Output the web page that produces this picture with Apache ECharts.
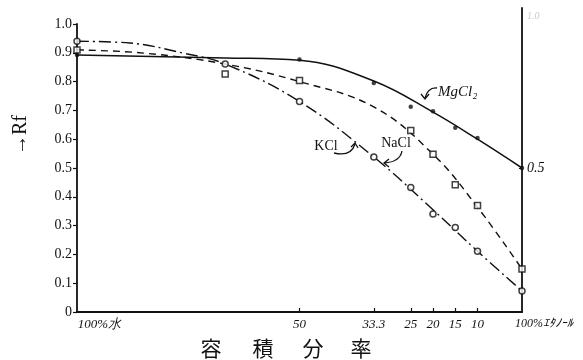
<!DOCTYPE html>
<html>
<head>
<meta charset="utf-8">
<script src="https://cdn.jsdelivr.net/npm/echarts@6/dist/echarts.min.js"></script>
<style>html,body{margin:0;padding:0;background:#fff}#c{width:583px;height:360px}</style>
</head>
<body>
<div id="c"></div>
<script>
// x = water volume %, (100% water at left, 100% ethanol at right)
const waterPct = [100, 66.7, 50, 33.3, 25, 20, 15, 10, 0];
// measured points (markers)
const mgcl2Marks = [0.892, null, 0.877, 0.795, 0.713, 0.697, 0.64, 0.604, 0.5];
const naclMarks  = [0.91, 0.826, 0.804, null, 0.63, 0.548, 0.442, 0.37, 0.149];
const kclMarks   = [0.94, 0.861, 0.731, 0.538, 0.432, 0.34, 0.293, 0.211, 0.073];
// drawn curves
const mgcl2CurveWater = [100, 66.7, 50, 33.3, 20, 10, 0];
const mgcl2Curve      = [0.892, 0.882, 0.874, 0.802, 0.694, 0.6, 0.5];
const naclCurveWater  = [100, 85, 66.7, 50, 33.3, 20, 10, 0];
const naclCurve       = [0.91, 0.899, 0.861, 0.80, 0.712, 0.548, 0.364, 0.149];
const kclCurveWater   = [100, 88.1, 76.2, 66.7, 50, 33.3, 20, 10, 0];
const kclCurve        = [0.94, 0.934, 0.899, 0.861, 0.731, 0.538, 0.355, 0.211, 0.073];
// axis ticks
const xTickValues = [100, 50, 33.3, 25, 20, 15, 10, 0];
const xTickLabels = ['100%水', '50', '33.3', '25', '20', '15', '10', '100%ｴﾀﾉｰﾙ'];
const xMinorTicks = [50, 33.3, 25, 20, 15, 10];
const seriesNames = ['MgCl₂', 'NaCl', 'KCl'];

const ink = '#111';
const pairs = (xs, ys) => xs.map((x, i) => [x, ys[i]]).filter(p => p[1] !== null);

const chart = echarts.init(document.getElementById('c'), null, {renderer: 'canvas'});
const serif = '"Liberation Serif", "DejaVu Serif", serif';
const arrowStyle = {stroke: ink, lineWidth: 1.3, fill: null};

const option = {
  backgroundColor: '#fff',
  animation: false,
  grid: [
    {left: 77, right: 61, top: 24, bottom: 48},
    {left: 77, right: 61, top: 8, bottom: 48}
  ],
  xAxis: [
    {
      type: 'value', gridIndex: 0, min: 0, max: 100, inverse: true,
      axisLine: {show: true, lineStyle: {color: ink, width: 1.8}},
      axisTick: {show: true, inside: true, length: 4, customValues: xMinorTicks, lineStyle: {color: ink, width: 1.2}},
      splitLine: {show: false},
      axisLabel: {
        show: true, customValues: xTickValues, margin: 6,
        color: ink, fontFamily: serif, fontStyle: 'italic', fontSize: 13,
        formatter: function (v) {
          const i = xTickValues.indexOf(v);
          const t = i >= 0 ? xTickLabels[i] : '';
          if (v === 100) return '{w|' + t + '}';
          if (v === 0) return '{e|' + t + '}';
          return t;
        },
        rich: {
          w: {padding: [0, 0, 0, 45], fontFamily: serif, fontStyle: 'italic', fontSize: 13, color: ink},
          e: {padding: [0, 0, 0, 44], fontFamily: serif, fontStyle: 'italic', fontSize: 12, color: ink}
        }
      }
    },
    {type: 'value', gridIndex: 1, min: 0, max: 100, show: false}
  ],
  yAxis: [
    {
      type: 'value', gridIndex: 0, min: 0, max: 1, interval: 0.1,
      axisLine: {show: true, onZero: false, lineStyle: {color: ink, width: 1.8}},
      axisTick: {show: true, length: 4, lineStyle: {color: ink, width: 1.2}},
      splitLine: {show: false},
      axisLabel: {
        color: ink, fontFamily: serif, fontSize: 14, margin: 5,
        formatter: v => (v === 0 ? '0' : v.toFixed(1))
      }
    },
    {
      type: 'value', gridIndex: 1, position: 'right', min: 0, max: 1.0556, interval: 0.5,
      axisLine: {show: true, onZero: false, lineStyle: {color: ink, width: 1.8}},
      axisTick: {show: true, length: 3, inside: true, customValues: [0.5], lineStyle: {color: ink}},
      splitLine: {show: false},
      axisLabel: {
        show: true, customValues: [0.5, 1.0], margin: 5,
        fontFamily: serif, fontStyle: 'italic', fontSize: 14,
        formatter: v => (v === 0.5 ? '{a|0.5}' : '{b|1.0}'),
        rich: {a: {color: ink, fontFamily: serif, fontStyle: 'italic', fontSize: 14},
               b: {color: '#c8c8c8', fontFamily: serif, fontSize: 10, padding: [0, 0, 16, 0]}}
      }
    }
  ],
  series: [
    {name: seriesNames[0], type: 'line', xAxisIndex: 0, yAxisIndex: 0, smooth: 0.4,
     showSymbol: false, data: pairs(mgcl2CurveWater, mgcl2Curve),
     lineStyle: {color: ink, width: 1.5, type: 'solid'}, z: 3},
    {name: seriesNames[1], type: 'line', xAxisIndex: 0, yAxisIndex: 0, smooth: 0.4,
     showSymbol: false, data: pairs(naclCurveWater, naclCurve),
     lineStyle: {color: ink, width: 1.4, type: [7, 5]}, z: 3},
    {name: seriesNames[2], type: 'line', xAxisIndex: 0, yAxisIndex: 0, smooth: 0.4,
     showSymbol: false, data: pairs(kclCurveWater, kclCurve),
     lineStyle: {color: ink, width: 1.4, type: [12, 4, 2, 4]}, z: 3},
    {name: seriesNames[0] + ' pts', type: 'scatter', xAxisIndex: 0, yAxisIndex: 0,
     data: pairs(waterPct, mgcl2Marks), symbol: 'circle', symbolSize: 4.5,
     itemStyle: {color: ink}, z: 5},
    {name: seriesNames[1] + ' pts', type: 'scatter', xAxisIndex: 0, yAxisIndex: 0,
     data: pairs(waterPct, naclMarks), symbol: 'rect', symbolSize: 6,
     itemStyle: {color: '#fff', borderColor: ink, borderWidth: 1.5}, z: 5},
    {name: seriesNames[2] + ' pts', type: 'scatter', xAxisIndex: 0, yAxisIndex: 0,
     data: pairs(waterPct, kclMarks), symbol: 'circle', symbolSize: 6,
     itemStyle: {color: '#fff', borderColor: ink, borderWidth: 1.5}, z: 5}
  ],
  graphic: [
    {type: 'text', x: 21, y: 135, rotation: Math.PI / 2,
     style: {text: '→Rf', font: '20px ' + serif, fill: ink, align: 'center', verticalAlign: 'middle'}},
    {type: 'text', x: 211, y: 348, style: {text: '容', font: '21px "Noto Sans CJK JP"', fill: ink, align: 'center', verticalAlign: 'middle'}},
    {type: 'text', x: 263, y: 348, style: {text: '積', font: '21px "Noto Sans CJK JP"', fill: ink, align: 'center', verticalAlign: 'middle'}},
    {type: 'text', x: 313, y: 348, style: {text: '分', font: '21px "Noto Sans CJK JP"', fill: ink, align: 'center', verticalAlign: 'middle'}},
    {type: 'text', x: 361, y: 348, style: {text: '率', font: '21px "Noto Sans CJK JP"', fill: ink, align: 'center', verticalAlign: 'middle'}},
    // labels with curved arrows
    {type: 'text', x: 438, y: 92, style: {text: seriesNames[0], font: 'italic 15px ' + serif, fill: ink, align: 'left', verticalAlign: 'middle'}},
    {type: 'bezierCurve', shape: {x1: 437, y1: 88, cpx1: 428, cpy1: 87, x2: 425, y2: 98}, style: arrowStyle},
    {type: 'polyline', shape: {points: [[421, 94], [425, 99], [429, 94]]}, style: arrowStyle},
    {type: 'text', x: 396, y: 143, style: {text: seriesNames[1], font: '14px ' + serif, fill: ink, align: 'center', verticalAlign: 'middle'}},
    {type: 'bezierCurve', shape: {x1: 402, y1: 151, cpx1: 400, cpy1: 162, x2: 384, y2: 163}, style: arrowStyle},
    {type: 'polyline', shape: {points: [[389, 159], [384, 163], [389, 167]]}, style: arrowStyle},
    {type: 'text', x: 326, y: 146, style: {text: seriesNames[2], font: '14px ' + serif, fill: ink, align: 'center', verticalAlign: 'middle'}},
    {type: 'bezierCurve', shape: {x1: 334, y1: 153, cpx1: 351, cpy1: 157, x2: 355, y2: 144}, style: arrowStyle},
    {type: 'polyline', shape: {points: [[351, 147], [355, 143], [358, 148]]}, style: arrowStyle}
  ]
};
chart.setOption(option);
</script>
</body>
</html>
